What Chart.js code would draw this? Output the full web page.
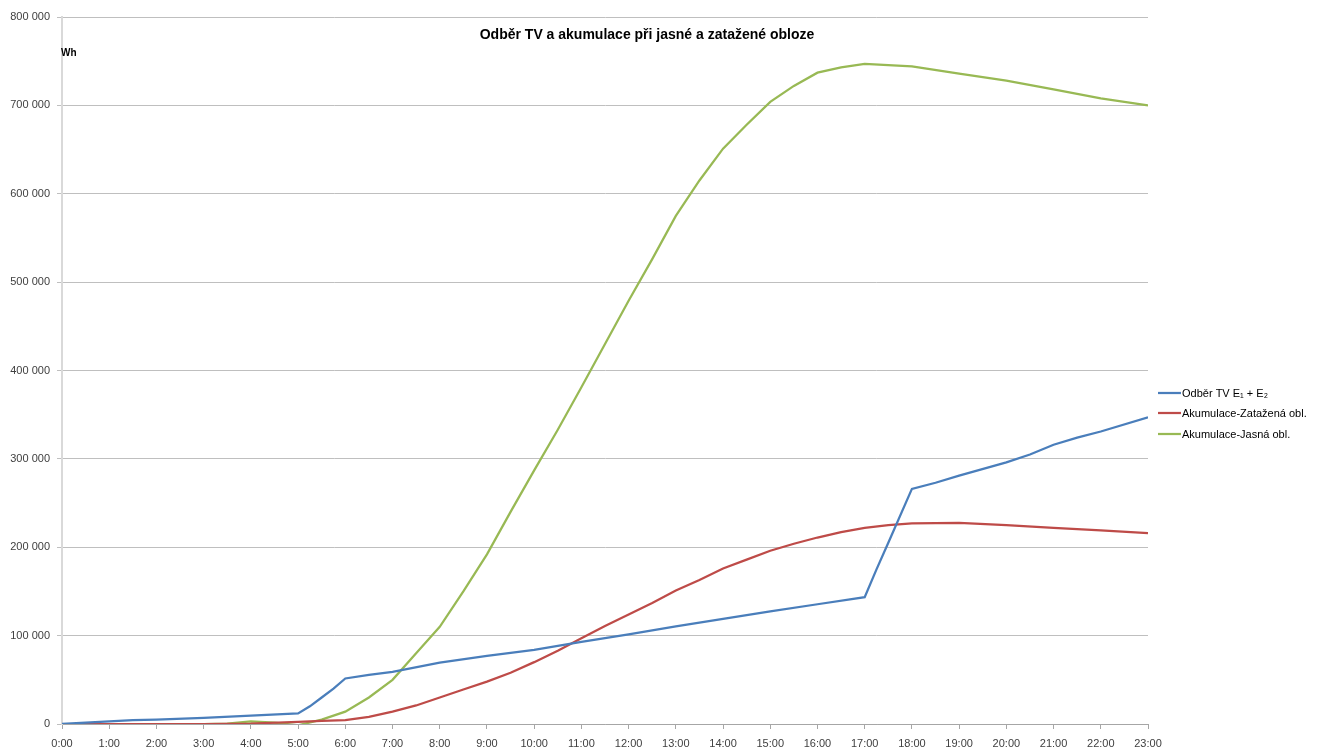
<!DOCTYPE html>
<html>
<head>
<meta charset="utf-8">
<script src="https://cdn.jsdelivr.net/npm/chart.js@4.4.0/dist/chart.umd.min.js"></script>
<style>
    html, body { margin: 0; padding: 0; background: #fff; }
    #wrap { width: 1325px; height: 752px; }
</style>
</head>
<body>
<div id="wrap"><canvas id="chart"></canvas></div>
<script>
// Hodiny (x) a hodnoty Wh (y)
const odberHours  = [0, 1, 1.5, 2, 3, 4, 5, 5.25, 5.5, 5.75, 6, 6.5, 7, 8, 9, 10, 11, 12, 13, 14, 15, 16, 17, 17.25, 17.5, 18, 18.5, 19, 20, 20.5, 21, 21.5, 22, 23];
const odberValues = [0, 3000, 4500, 5000, 7000, 9500, 12000, 20000, 30000, 40000, 51500, 55500, 59000, 69500, 77000, 84000, 93000, 101500, 110500, 119000, 127500, 135500, 143500, 175000, 205000, 266000, 273000, 281000, 296000, 305000, 316000, 324000, 331000, 347000];

const zatazHours  = [0, 1, 2, 3, 4, 5, 5.5, 6, 6.5, 7, 7.5, 8, 8.5, 9, 9.5, 10, 10.5, 11, 11.5, 12, 12.5, 13, 13.5, 14, 14.5, 15, 15.5, 16, 16.5, 17, 17.5, 18, 19, 20, 21, 22, 23];
const zatazValues = [0, 0, 0, 0, 500, 2500, 3500, 4500, 8000, 14000, 21000, 30000, 39000, 48000, 58000, 70000, 83000, 97000, 111000, 124000, 137000, 151000, 163000, 176000, 186000, 196000, 204000, 211000, 217000, 222000, 225000, 227000, 227500, 225000, 222000, 219000, 216000];

const jasnaHours  = [0, 1, 2, 3, 3.5, 4, 4.5, 5, 5.5, 6, 6.5, 7, 7.5, 8, 8.5, 9, 9.5, 10, 10.5, 11, 11.5, 12, 12.5, 13, 13.5, 14, 14.5, 15, 15.5, 16, 16.5, 17, 18, 19, 20, 21, 22, 23];
const jasnaValues = [0, 0, 0, 0, 500, 3000, 1500, -1500, 5000, 14000, 30000, 50000, 80000, 110000, 150000, 192000, 240000, 287000, 333000, 381000, 430000, 479000, 526000, 575000, 615000, 651000, 678000, 704000, 722000, 737000, 743000, 747000, 744000, 736000, 728000, 718000, 708000, 700000];

const seriesLabels = ['Odběr TV E₁ + E₂', 'Akumulace-Zatažená obl.', 'Akumulace-Jasná obl.'];
const seriesColors = ['#4a7ebb', '#be4b48', '#98b954'];

const chartTitle = 'Odběr TV a akumulace při jasné a zatažené obloze';
const yUnit = 'Wh';

const FONT = '"Liberation Sans", Arial, sans-serif';

function toPoints(hours, values) {
    return hours.map((h, i) => ({ x: h, y: values[i] }));
}

function formatThousands(v) {
    return String(v).replace(/\B(?=(\d{3})+(?!\d))/g, ' ');
}

// Titulek, jednotka a legenda kreslené ručně
const decorations = {
    id: 'decorations',
    afterDraw(chart) {
        const ctx = chart.ctx;
        const area = chart.chartArea;
        ctx.save();
        ctx.fillStyle = '#000';
        ctx.font = 'bold 14px ' + FONT;
        ctx.textAlign = 'center';
        ctx.textBaseline = 'middle';
        ctx.fillText(chartTitle, 647, 35);

        ctx.font = 'bold 10px ' + FONT;
        ctx.textAlign = 'left';
        ctx.fillText(yUnit, area.left - 1, 53);

        ctx.font = '11px ' + FONT;
        const rowY = [393, 413, 434];
        chart.data.datasets.forEach((ds, i) => {
            ctx.strokeStyle = ds.borderColor;
            ctx.lineWidth = 2.25;
            ctx.beginPath();
            ctx.moveTo(1158, rowY[i]);
            ctx.lineTo(1181, rowY[i]);
            ctx.stroke();
            ctx.fillText(ds.label, 1182, rowY[i] + 1);
        });
        ctx.restore();
    }
};

const datasets = [
    toPoints(odberHours, odberValues),
    toPoints(zatazHours, zatazValues),
    toPoints(jasnaHours, jasnaValues)
].map((pts, i) => ({
    label: seriesLabels[i],
    data: pts,
    borderColor: seriesColors[i],
    backgroundColor: seriesColors[i],
    borderWidth: 2.25,
    pointRadius: 0,
    tension: 0,
    fill: false
}));

new Chart(document.getElementById('chart'), {
    type: 'line',
    data: { datasets: datasets },
    options: {
        responsive: true,
        maintainAspectRatio: false,
        animation: false,
        layout: { padding: { top: 17, right: 177, left: 0, bottom: 0 } },
        plugins: {
            legend: { display: false },
            title: { display: false },
            tooltip: { enabled: false }
        },
        scales: {
            x: {
                type: 'linear',
                min: 0,
                max: 23,
                afterFit: (scale) => { scale.height = 28; },
                ticks: {
                    stepSize: 1,
                    autoSkip: false,
                    maxRotation: 0,
                    padding: 8,
                    color: '#404040',
                    font: { family: FONT, size: 11 },
                    callback: (v) => v + ':00'
                },
                grid: {
                    drawOnChartArea: false,
                    drawTicks: true,
                    tickLength: 5,
                    color: '#a6a6a6'
                },
                border: { color: '#a6a6a6', width: 1 }
            },
            y: {
                min: 0,
                max: 800000,
                afterFit: (scale) => { scale.width = 62; },
                ticks: {
                    stepSize: 100000,
                    padding: 7,
                    color: '#404040',
                    font: { family: FONT, size: 11 },
                    callback: (v) => formatThousands(v)
                },
                grid: {
                    color: '#bfbfbf',
                    lineWidth: 1,
                    tickLength: 5
                },
                border: { color: '#d9d9d9', width: 2 }
            }
        }
    },
    plugins: [decorations]
});
</script>
</body>
</html>
